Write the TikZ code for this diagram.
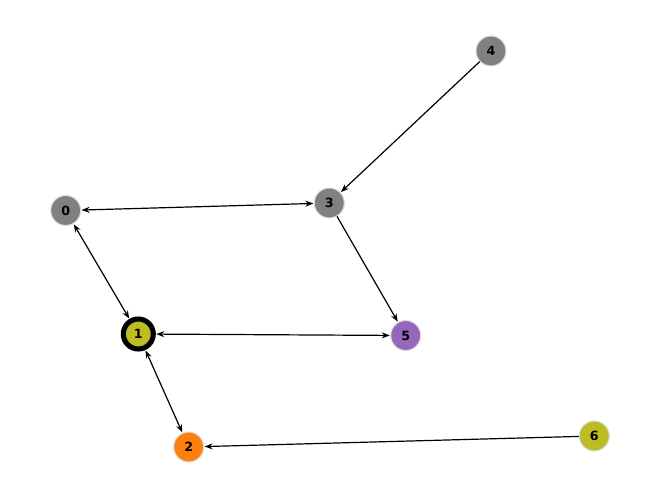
\documentclass[tikz,border=0pt]{standalone}
\usepackage{fontspec}
\setmainfont{DejaVu Sans}
\usetikzlibrary{arrows.meta}
\definecolor{tgray}{HTML}{808080}
\definecolor{tolive}{HTML}{BCBD22}
\definecolor{torange}{HTML}{FF7F0E}
\definecolor{tpurple}{HTML}{9467BD}
\definecolor{tring}{HTML}{DDDDDD}
\tikzset{
  vtx/.style={circle, minimum size=22.5pt, inner sep=0pt, draw=tring, line width=0.8pt,
    font=\fontsize{9.5}{9.5}\selectfont\bfseries},
  sel/.style={vtx, draw=black, line width=3.8pt, minimum size=22.5pt},
  edge/.style={line width=0.9pt, -{Stealth[length=6pt,width=4.5pt]}, shorten >=0.3pt},
  bedge/.style={line width=0.9pt, {Stealth[length=6pt,width=4.5pt]}-{Stealth[length=6pt,width=4.5pt]}, shorten >=0.3pt, shorten <=0.3pt}
}
\begin{document}
\begin{tikzpicture}[x=0.75pt,y=-0.75pt]
\useasboundingbox (0,0) rectangle (660,499);
\node[vtx, fill=tgray] (n0) at (65.7,210.5) {0};
\node[sel, fill=tolive] (n1) at (138.3,334) {1};
\node[vtx, fill=torange] (n2) at (188.7,447) {2};
\node[vtx, fill=tgray] (n3) at (329.3,203) {3};
\node[vtx, fill=tgray] (n4) at (491,51) {4};
\node[vtx, fill=tpurple] (n5) at (405.7,335.5) {5};
\node[vtx, fill=tolive] (n6) at (594.3,436) {6};
\draw[bedge] (n0) -- (n3);
\draw[bedge] (n0) -- (n1);
\draw[bedge] (n1) -- (n5);
\draw[bedge] (n1) -- (n2);
\draw[edge] (n4) -- (n3);
\draw[edge] (n3) -- (n5);
\draw[edge] (n6) -- (n2);
\end{tikzpicture}
\end{document}
